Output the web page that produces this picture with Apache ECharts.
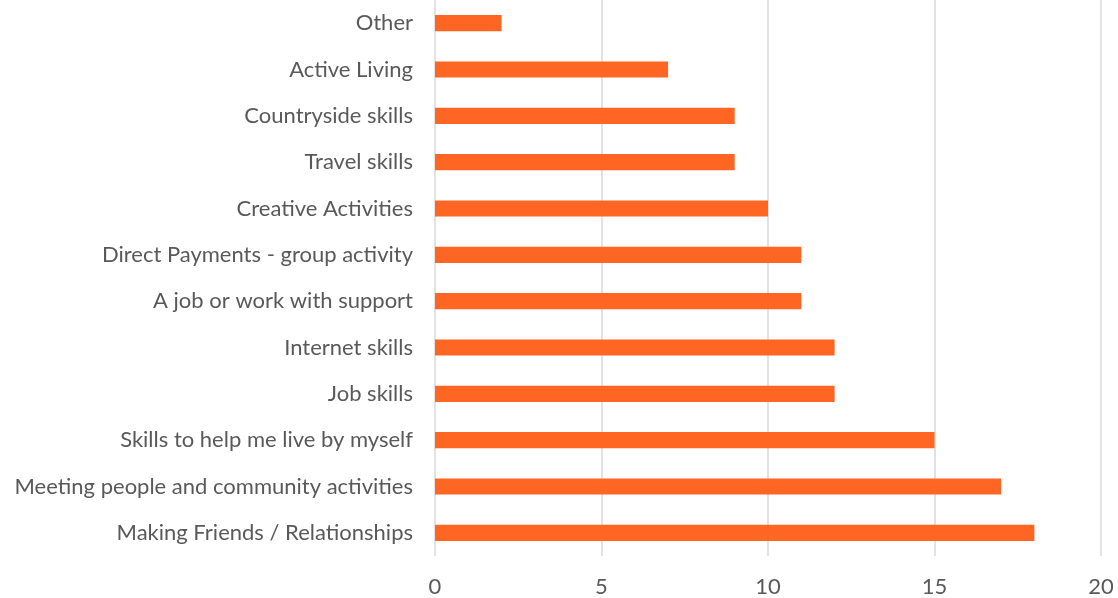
<!DOCTYPE html>
<html>
<head>
<meta charset="utf-8">
<script src="https://cdn.jsdelivr.net/npm/echarts@6/dist/echarts.min.js"></script>
<style>
  html, body { margin: 0; padding: 0; background: #fff; }
  #chart { width: 1118px; height: 598px; }
</style>
</head>
<body>
<div id="chart"></div>
<script>
// categories from bottom to top
const categories = [
  'Making Friends / Relationships',
  'Meeting people and community activities',
  'Skills to help me live by myself',
  'Job skills',
  'Internet skills',
  'A job or work with support',
  'Direct Payments - group activity',
  'Creative Activities',
  'Travel skills',
  'Countryside skills',
  'Active Living',
  'Other'
]
const counts = [18, 17, 15, 12, 12, 11, 11, 10, 9, 9, 7, 2]

const chart = echarts.init(document.getElementById('chart'))
chart.setOption({
  animation: false,
  textStyle: { fontFamily: 'Lato' },
  grid: {
    left: 435,
    right: 17,
    top: -1,
    bottom: 40
  },
  xAxis: {
    type: 'value',
    min: 0,
    max: 20,
    interval: 5,
    axisLine: { show: false },
    axisTick: { show: false },
    axisLabel: { color: '#595959', fontSize: 22, margin: 20 },
    splitLine: { lineStyle: { color: '#d9d9d9', width: 1.5 } }
  },
  yAxis: {
    type: 'category',
    data: categories,
    axisLine: { show: false },
    axisTick: { show: false },
    axisLabel: { color: '#595959', fontSize: 22, margin: 22 }
  },
  series: [
    {
      type: 'bar',
      data: counts,
      barWidth: '35%',
      itemStyle: { color: '#ff6624' }
    }
  ]
})
</script>
</body>
</html>
